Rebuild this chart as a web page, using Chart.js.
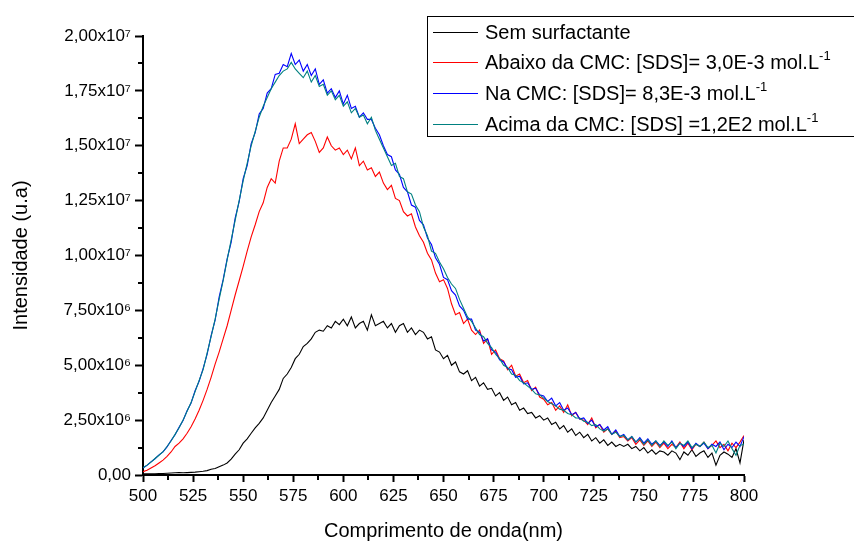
<!DOCTYPE html>
<html>
<head>
<meta charset="utf-8">
<script src="https://cdn.jsdelivr.net/npm/chart.js@4.4.1/dist/chart.umd.min.js"></script>
<style>
  html, body { margin: 0; padding: 0; background: #fff; }
  #wrap { position: relative; width: 854px; height: 543px; overflow: hidden; }
  #legend {
    position: absolute; left: 427px; top: 16px; width: 450px; height: 119px;
    border: 1px solid #000; background: #fff;
    font-family: 'Liberation Sans', Arial, sans-serif; font-size: 20px; color: #000;
  }
  .row { position: absolute; left: 0; height: 30px; line-height: 30px; white-space: nowrap; }
  .swatch { position: absolute; left: 5px; top: 15px; width: 45px; height: 1px; }
  .txt { position: absolute; left: 57px; top: 0; }
  .txt sup { font-size: 13px; vertical-align: baseline; position: relative; top: -9px; line-height: 0; }
</style>
</head>
<body>
<div id="wrap">
  <canvas id="chart" width="854" height="543"></canvas>
  <div id="legend"></div>
</div>
<script>
// wavelength (nm)
const wavelengths = [
  500, 502, 504, 506, 508, 510, 512, 514, 516, 518,
  520, 522, 524, 526, 528, 530, 532, 534, 536, 538,
  540, 542, 544, 546, 548, 550, 552, 554, 556, 558,
  560, 562, 564, 566, 568, 570, 572, 574, 576, 578,
  580, 582, 584, 586, 588, 590, 592, 594, 596, 598,
  600, 602, 604, 606, 608, 610, 612, 614, 616, 618,
  620, 622, 624, 626, 628, 630, 632, 634, 636, 638,
  640, 642, 644, 646, 648, 650, 652, 654, 656, 658,
  660, 662, 664, 666, 668, 670, 672, 674, 676, 678,
  680, 682, 684, 686, 688, 690, 692, 694, 696, 698,
  700, 702, 704, 706, 708, 710, 712, 714, 716, 718,
  720, 722, 724, 726, 728, 730, 732, 734, 736, 738,
  740, 742, 744, 746, 748, 750, 752, 754, 756, 758,
  760, 762, 764, 766, 768, 770, 772, 774, 776, 778,
  780, 782, 784, 786, 788, 790, 792, 794, 796, 798,
  800
];

// intensities in units of 10^6
const semSurfactante = [
  0.05, 0.05, 0.06, 0.06, 0.07, 0.07, 0.08, 0.09, 0.1, 0.11,
  0.1, 0.11, 0.12, 0.13, 0.15, 0.17, 0.2, 0.26, 0.3, 0.38,
  0.45, 0.55, 0.72, 0.95, 1.15, 1.45, 1.65, 1.9, 2.15, 2.35,
  2.6, 2.95, 3.3, 3.6, 3.9, 4.4, 4.6, 4.9, 5.3, 5.5,
  5.85, 6.0, 6.2, 6.5, 6.6, 6.55, 6.8, 6.7, 7.0, 6.85,
  7.1, 6.8, 7.2, 6.7, 6.9, 7.0, 6.6, 7.3, 6.8, 6.9,
  7.0, 6.7, 6.9, 6.5, 6.8, 6.9, 6.5, 6.7, 6.4, 6.6,
  6.5, 6.2, 6.3, 5.7, 5.6, 5.3, 5.45, 5.0, 5.15, 4.7,
  4.6, 4.75, 4.3, 4.45, 4.05, 4.2, 3.9, 3.95, 3.6, 3.75,
  3.4, 3.55, 3.2, 3.3, 2.95, 3.05, 2.8, 2.85, 2.6, 2.7,
  2.5, 2.6, 2.3, 2.4, 2.1, 2.25, 1.95, 2.1, 1.8, 1.95,
  1.7, 1.85, 1.55, 1.7, 1.45, 1.6, 1.35, 1.5, 1.3, 1.4,
  1.3, 1.4, 1.2, 1.3, 1.1, 1.25, 1.0, 1.15, 0.95, 1.1,
  1.05, 0.9, 1.1, 1.0, 0.7, 1.05, 0.9, 1.15, 0.85, 1.0,
  1.1, 0.8, 1.0, 0.45, 0.9, 1.05, 0.95, 0.8, 1.2, 0.55,
  1.6
];

const abaixoCMC = [
  0.15, 0.22, 0.32, 0.42, 0.55, 0.68, 0.85, 1.05, 1.3, 1.45,
  1.65, 1.9, 2.2, 2.55, 2.95, 3.4, 3.9, 4.45, 5.05, 5.6,
  6.2, 6.8, 7.5, 8.2, 8.85, 9.5, 10.2, 10.85, 11.4, 12.0,
  12.4, 13.1, 13.5, 13.3, 14.3, 14.9, 14.9, 15.3, 16.0, 15.1,
  15.3, 15.5, 15.6, 15.2, 14.7, 14.9, 15.4, 15.0, 14.8, 14.9,
  14.6, 14.8, 14.4, 14.9, 14.1, 14.3, 13.9, 14.0, 13.6, 13.8,
  13.3, 13.0, 13.2, 12.6, 12.5, 12.0, 11.8, 11.9, 11.3, 10.9,
  10.6, 10.1, 9.8, 9.2, 8.8, 8.9, 8.5, 7.8, 7.3, 7.4,
  6.9, 7.1, 6.6, 6.4, 6.6, 6.0, 6.2, 5.5, 5.7, 5.3,
  5.2, 4.8, 5.0, 4.5, 4.6, 4.2, 4.3, 3.85, 4.0, 3.55,
  3.45, 3.2, 3.3, 2.95, 3.15, 2.85, 3.2, 2.7, 2.85, 2.55,
  2.5, 2.3, 2.6, 2.15, 2.3, 1.95, 2.1, 1.85, 2.0, 1.7,
  1.75, 1.55, 1.7, 1.4, 1.6, 1.35, 1.55, 1.3, 1.5, 1.25,
  1.45, 1.2, 1.4, 1.25, 1.5, 1.2, 1.45, 1.15, 1.4, 1.3,
  1.5, 1.2, 1.35, 1.55, 1.25, 1.4, 1.1, 1.45, 1.25, 1.5,
  1.8
];

const naCMC = [
  0.32, 0.44, 0.6, 0.74, 0.92, 1.05, 1.28, 1.57, 1.83, 2.17,
  2.48, 2.93, 3.28, 3.84, 4.27, 4.85, 5.5, 6.35, 7.05, 8.1,
  8.9, 9.85, 10.6, 11.7, 12.45, 13.5, 14.1, 15.1, 15.6, 16.45,
  16.7, 17.4, 17.6, 18.25, 18.3, 18.7, 18.6, 19.2, 18.7, 18.9,
  18.4, 18.7, 18.2, 18.5, 17.8, 18.0, 17.4, 17.6, 17.2, 17.5,
  16.9, 17.3, 16.7, 16.8, 16.3, 16.5, 16.2, 16.2, 15.8, 15.5,
  15.0, 14.6, 14.5, 13.9, 13.7, 13.1, 12.9, 12.3, 12.2, 11.6,
  11.4, 10.8, 10.5, 9.9, 9.6, 9.0, 8.9, 8.4, 8.2, 7.7,
  7.5, 7.1, 7.1, 6.6, 6.5, 6.1, 6.2, 5.7, 5.6, 5.25,
  5.15, 4.85, 4.8, 4.45, 4.5, 4.15, 4.2, 3.9, 3.95, 3.65,
  3.6, 3.35, 3.5, 3.15, 3.3, 2.95, 3.05, 2.75, 2.85, 2.55,
  2.6, 2.35, 2.5, 2.2, 2.3, 2.05, 2.2, 1.85, 2.05, 1.75,
  1.85, 1.6, 1.75, 1.5, 1.7, 1.45, 1.65, 1.4, 1.55, 1.35,
  1.5, 1.3, 1.55, 1.25, 1.45, 1.3, 1.5, 1.2, 1.45, 1.3,
  1.45, 1.2, 1.4, 1.3, 1.5, 1.15, 1.4, 1.25, 1.5, 1.3,
  1.75
];

const acimaCMC = [
  0.33, 0.45, 0.59, 0.75, 0.9, 1.06, 1.3, 1.55, 1.85, 2.15,
  2.5, 2.9, 3.3, 3.8, 4.3, 4.8, 5.55, 6.3, 7.1, 8.0,
  8.85, 9.8, 10.7, 11.6, 12.5, 13.4, 14.2, 15.0, 15.65, 16.3,
  16.8, 17.2, 17.6, 17.9, 18.2, 18.4, 18.5, 18.8, 18.5, 18.3,
  18.1, 18.4, 17.9, 18.2, 17.7, 17.8, 17.3, 17.5, 17.1, 17.3,
  16.8, 17.0, 16.5, 16.7, 16.3, 16.4, 16.0, 16.3, 15.7, 15.3,
  14.9, 14.5, 14.1, 14.2, 13.6, 13.5, 12.9, 12.8, 12.3, 12.0,
  11.3, 10.9, 10.2, 10.1, 9.7, 9.4, 9.0, 8.7, 8.5, 8.0,
  7.6, 7.2, 7.0, 6.7, 6.4, 6.3, 6.0, 5.8, 5.5, 5.3,
  5.0, 4.9, 4.6, 4.55, 4.3, 4.2, 4.05, 3.9, 3.7, 3.65,
  3.5, 3.35, 3.25, 3.15, 3.0, 2.95, 2.8, 2.75, 2.6, 2.6,
  2.45, 2.4, 2.25, 2.3, 2.1, 2.0, 2.1, 1.85, 1.95, 1.75,
  1.8, 1.6, 1.75, 1.5, 1.65, 1.4, 1.6, 1.35, 1.55, 1.3,
  1.55, 1.35, 1.5, 1.2, 1.45, 1.35, 1.55, 1.25, 1.4, 1.3,
  1.5, 1.25, 1.35, 1.0, 1.45, 1.3, 1.55, 1.2, 0.9, 1.35,
  1.4
];

const seriesLabels = [
  'Sem surfactante',
  'Abaixo da CMC: [SDS]= 3,0E-3 mol.L',
  'Na CMC: [SDS]= 8,3E-3 mol.L',
  'Acima da CMC: [SDS] =1,2E2 mol.L'
];
const seriesUnitSup = ['', '-1', '-1', '-1'];
const seriesColors = ['#000000', '#ff0000', '#0000ff', '#008080'];

const yTickLabels = ['0,00', '2,50x10⁶', '5,00x10⁶', '7,50x10⁶', '1,00x10⁷',
  '1,25x10⁷', '1,50x10⁷', '1,75x10⁷', '2,00x10⁷'];
const xMinorTicks = [512.5, 537.5, 562.5, 587.5, 612.5, 637.5, 662.5, 687.5, 712.5, 737.5, 762.5, 787.5];
const yMinorTicks = [1.25, 3.75, 6.25, 8.75, 11.25, 13.75, 16.25, 18.75];

const allSeries = [semSurfactante, abaixoCMC, naCMC, acimaCMC];

// short unlabelled ticks between the major ones
const minorTicks = {
  id: 'minorTicks',
  afterDraw(chart) {
    const { ctx, scales: { x, y } } = chart;
    ctx.save();
    ctx.strokeStyle = '#000';
    ctx.lineWidth = 2;
    ctx.beginPath();
    xMinorTicks.forEach(v => {
      const px = Math.round(x.getPixelForValue(v));
      ctx.moveTo(px, x.top);
      ctx.lineTo(px, x.top + 5);
    });
    yMinorTicks.forEach(v => {
      const py = Math.round(y.getPixelForValue(v));
      ctx.moveTo(y.right, py);
      ctx.lineTo(y.right - 5, py);
    });
    ctx.stroke();
    ctx.restore();
  }
};

const font = "'Liberation Sans', Arial, sans-serif";

new Chart(document.getElementById('chart'), {
  type: 'line',
  data: {
    datasets: allSeries.map((vals, i) => ({
      label: seriesLabels[i],
      data: vals.map((v, j) => ({ x: wavelengths[j], y: v })),
      borderColor: seriesColors[i],
      borderWidth: 1.1,
      pointRadius: 0,
      tension: 0,
      fill: false,
      order: allSeries.length - 1 - i
    }))
  },
  options: {
    responsive: false,
    animation: false,
    devicePixelRatio: 1,
    layout: { padding: { top: 36, right: 110, left: 0, bottom: 0 } },
    plugins: {
      legend: { display: false },
      tooltip: { enabled: false }
    },
    scales: {
      x: {
        type: 'linear',
        min: 500,
        max: 800,
        afterFit: s => { s.height = 68; },
        border: { display: true, color: '#000', width: 2 },
        grid: { drawOnChartArea: false, tickLength: 7, tickColor: '#000', tickWidth: 2 },
        ticks: {
          stepSize: 25,
          color: '#000',
          padding: 4,
          maxRotation: 0,
          font: { family: font, size: 17 }
        },
        title: {
          display: true,
          text: 'Comprimento de onda(nm)',
          color: '#000',
          font: { family: font, size: 20 },
          padding: { top: 0, bottom: 0 }
        }
      },
      y: {
        min: 0,
        max: 20,
        afterFit: s => { s.width = 143; },
        border: { display: true, color: '#000', width: 2 },
        grid: { drawOnChartArea: false, tickLength: 8, tickColor: '#000', tickWidth: 2 },
        ticks: {
          stepSize: 2.5,
          color: '#000',
          padding: 4,
          font: { family: font, size: 17 },
          callback: (v, i) => yTickLabels[i]
        },
        title: {
          display: true,
          text: 'Intensidade (u.a)',
          color: '#000',
          font: { family: font, size: 20 },
          padding: { top: 9, bottom: 0 }
        }
      }
    }
  },
  plugins: [minorTicks]
});

// legend box drawn over the top right corner
const legend = document.getElementById('legend');
const rowCenters = [15, 45, 76, 107];
seriesLabels.forEach((label, i) => {
  const row = document.createElement('div');
  row.className = 'row';
  row.style.top = (rowCenters[i] - 15) + 'px';
  const sw = document.createElement('div');
  sw.className = 'swatch';
  sw.style.backgroundColor = seriesColors[i];
  const txt = document.createElement('span');
  txt.className = 'txt';
  txt.textContent = label;
  if (seriesUnitSup[i]) {
    const sup = document.createElement('sup');
    sup.textContent = seriesUnitSup[i];
    txt.appendChild(sup);
  }
  row.appendChild(sw);
  row.appendChild(txt);
  legend.appendChild(row);
});
</script>
</body>
</html>
